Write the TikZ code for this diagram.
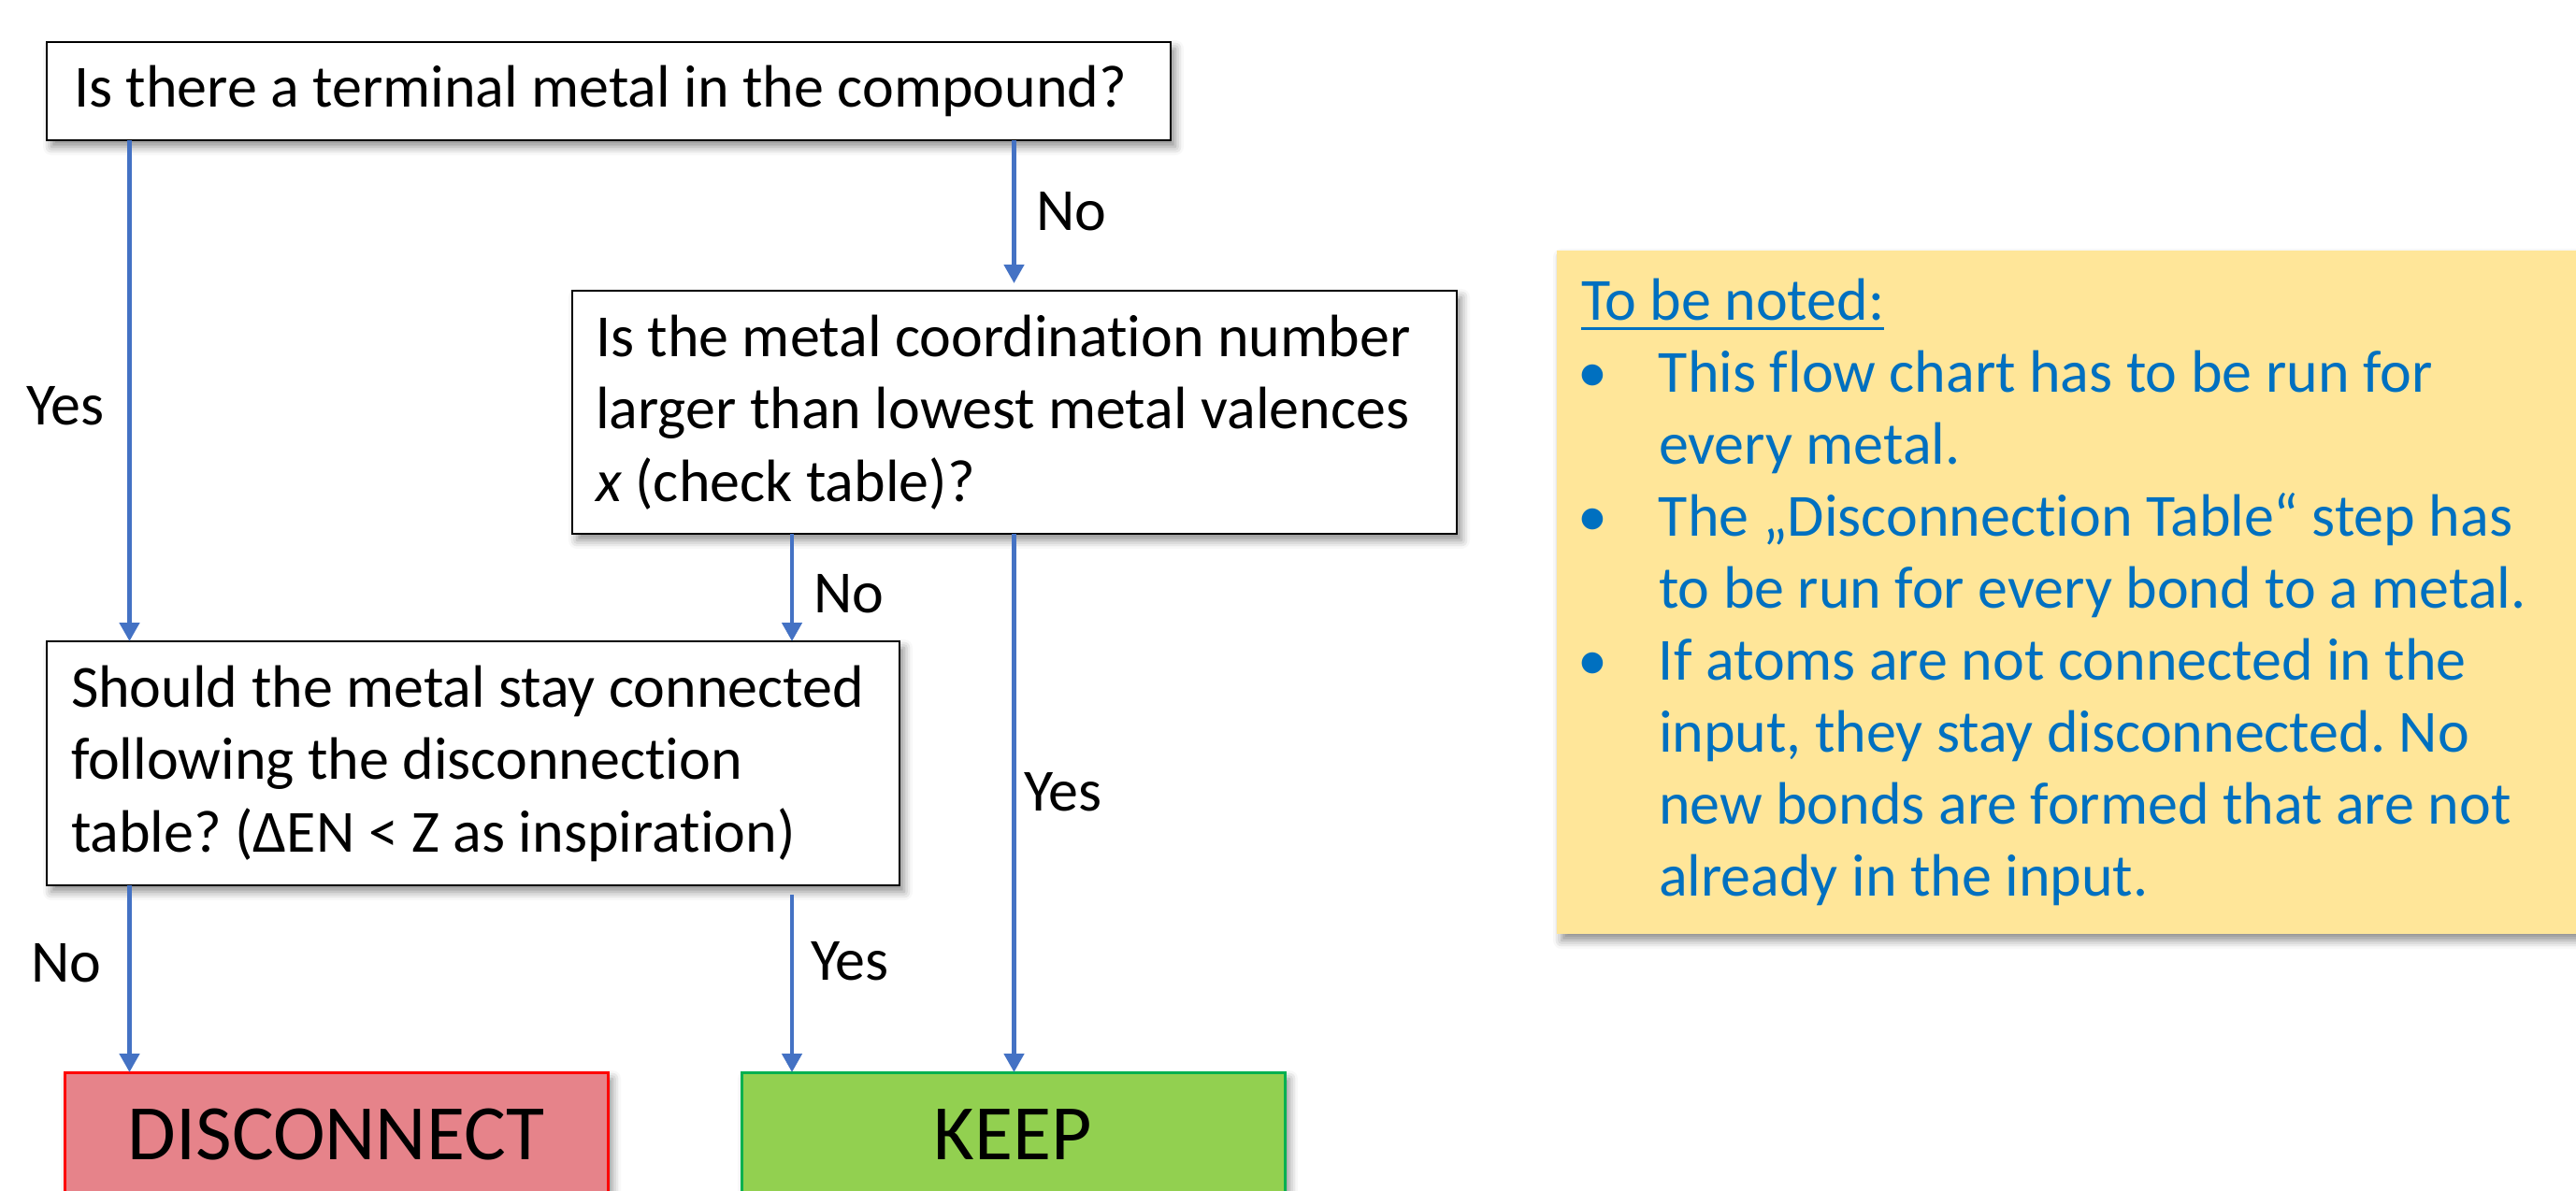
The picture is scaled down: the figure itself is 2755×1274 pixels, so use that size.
\documentclass[tikz,border=0pt]{standalone}
\usepackage{fontspec}
\setmainfont{Carlito}[Ligatures={NoCommon}]
\usetikzlibrary{arrows.meta,shadows.blur}
\definecolor{arrblue}{HTML}{4472C4}
\definecolor{discfill}{HTML}{E6838A}
\definecolor{discline}{HTML}{FF0000}
\definecolor{keepfill}{HTML}{92D050}
\definecolor{keepline}{HTML}{00B050}
\definecolor{notefill}{HTML}{FFE699}
\definecolor{notetext}{HTML}{0070C0}
\newcommand\ulx[1]{\setbox0\hbox{#1}\rlap{\rule[-10.5pt]{\wd0}{3pt}}\box0}
\newcommand\bul{\makebox[83pt][l]{\hspace{-4pt}•}}
\newcommand\ind{\hspace*{83pt}}
\frenchspacing
\begin{document}
\begin{tikzpicture}[x=1pt,y=-1pt,
  shd/.style={blur shadow={shadow xshift=5pt,shadow yshift=-7pt,shadow blur radius=9pt,shadow opacity=45}},
  qbox/.style={draw=black,line width=2.5pt,fill=white,shd,anchor=north west,outer sep=0pt,
    align=flush left,inner ysep=0pt,font=\fontsize{64}{77.5}\selectfont\frenchspacing},
  resbox/.style={line width=3pt,shd,anchor=north west,outer sep=0pt,inner sep=0pt,
    minimum width=581pt,minimum height=134pt,font=\fontsize{84}{100}\selectfont},
  notebox/.style={fill=notefill,shd,anchor=north west,outer sep=0pt,inner ysep=0pt,inner xsep=26pt,
    text width=1098pt,minimum width=1150pt,minimum height=731pt,align=flush left,
    text=notetext,font=\fontsize{64}{77}\selectfont\frenchspacing},
  arr/.style={draw=arrblue,line width=4.5pt,-{Triangle[length=20pt,width=21pt]}},
  lbl/.style={anchor=base west,inner sep=0pt,font=\fontsize{64}{77.5}\selectfont}
]
\useasboundingbox (0,0) rectangle (2755,1274);
\clip (0,0) rectangle (2755,1274);

% question boxes
\node[qbox,inner xsep=29pt,text width=1144pt,minimum width=1202pt,minimum height=105pt] (q1) at (50,45)
  {Is there a terminal metal in the compound?};
\node[qbox,inner xsep=25pt,text width=896pt,minimum width=946pt,minimum height=260pt] (q2) at (612,311)
  {Is the metal coordination number\\larger than lowest metal valences\\\textit{x} (check table)?};
\node[qbox,inner xsep=26pt,text width=860pt,minimum width=912pt,minimum height=261pt] (q3) at (50,686)
  {Should the metal stay connected\\following the disconnection\\table? (ΔEN < Z as inspiration)};

% result boxes
\node[resbox,draw=discline,fill=discfill] (disc) at (69,1147) {DISCONNECT};
\node[resbox,draw=keepline,fill=keepfill] (keep) at (793,1147) {KEEP};

% note
\node[notebox] (note) at (1665,268)
  {\ulx{To be noted:}\\
   \bul This flow chart has to be run for\\
   \ind every metal.\\
   \bul The „Disconnection Table“ step has\\
   \ind to be run for every bond to a metal.\\
   \bul If atoms are not connected in the\\
   \ind input, they stay disconnected. No\\
   \ind new bonds are formed that are not\\
   \ind already in the input.};

% connector columns
\coordinate (cA) at (138.5,0);
\coordinate (cB) at (847,0);
\coordinate (cC) at (1084.5,0);

\draw[arr] (q1.south -| cA) -- (q3.north -| cA);
\draw[arr,shorten >=8pt] (q1.south -| cC) -- (q2.north -| cC);
\draw[arr] (q2.south -| cB) -- (q3.north -| cB);
\draw[arr] (q2.south -| cC) -- (keep.north -| cC);
\draw[arr] (q3.south -| cA) -- (disc.north -| cA);
\draw[arr,shorten <=10pt] (q3.south -| cB) -- (keep.north -| cB);

% labels
\node[lbl] (l1) at (28,454) {Yes};
\node[lbl] (l2) at (1108,246) {No};
\node[lbl] (l3) at (870,655) {No};
\node[lbl] (l4) at (1095,867) {Yes};
\node[lbl] (l5) at (33,1050) {No};
\node[lbl] (l6) at (867,1048) {Yes};
\end{tikzpicture}
\end{document}
